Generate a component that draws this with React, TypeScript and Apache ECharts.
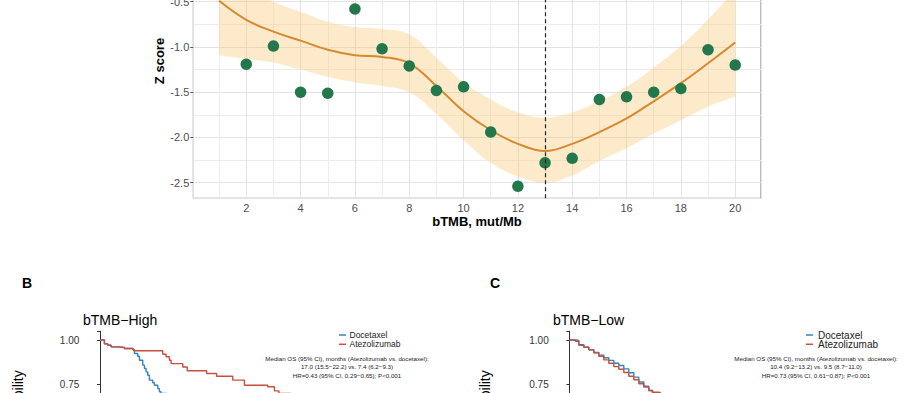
import React, { useEffect, useRef } from "react";
import * as echarts from "echarts";

const FONT = "'Liberation Sans', Arial, Helvetica, sans-serif";

// ---------- Panel A: Z score by bTMB cutoff ----------
const bTMBCutoffs = [2, 3, 4, 5, 6, 7, 8, 9, 10, 11, 12, 13, 14, 15, 16, 17, 18, 19, 20];
const zScores = [-1.19, -0.99, -1.5, -1.51, -0.58, -1.02, -1.21, -1.48, -1.44, -1.94, -2.54, -2.28, -2.23, -1.58, -1.55, -1.5, -1.46, -1.03, -1.2];
const fitX = [1, 2, 3, 4, 5, 6, 7, 8, 9, 10, 11, 12, 13, 14, 15, 16, 17, 18, 19, 20];
const fitY = [-0.49, -0.7, -0.83, -0.93, -1.03, -1.09, -1.11, -1.18, -1.43, -1.71, -1.92, -2.07, -2.15, -2.07, -1.94, -1.79, -1.6, -1.4, -1.18, -0.95];
const fitLower = [-1.09, -1.13, -1.17, -1.25, -1.33, -1.39, -1.43, -1.5, -1.74, -2.03, -2.28, -2.43, -2.5, -2.42, -2.26, -2.12, -1.96, -1.81, -1.66, -1.55];
const fitUpper = [0.11, -0.32, -0.5, -0.61, -0.72, -0.78, -0.8, -0.86, -1.12, -1.39, -1.58, -1.72, -1.78, -1.72, -1.6, -1.44, -1.23, -0.99, -0.7, -0.36];
const selectedCutoff = 13;

// ---------- Panel B: bTMB-High Kaplan-Meier ----------
const highDocetaxelTime = [0, 0.4, 0.7, 1.0, 1.6, 2.2, 2.95, 3.1, 3.4, 3.55, 3.85, 4.0, 4.15, 4.3, 4.45, 4.75, 4.9, 5.2, 5.35, 5.5, 6.0, 6.6];
const highDocetaxelSurv = [1.0, 0.978, 0.97, 0.961, 0.957, 0.952, 0.946, 0.923, 0.908, 0.885, 0.857, 0.838, 0.819, 0.8, 0.772, 0.757, 0.743, 0.724, 0.706, 0.696, 0.66, 0.62];
const highAtezoTime = [0, 0.4, 0.7, 1.0, 1.6, 2.2, 2.95, 3.05, 5.65, 5.95, 6.25, 6.4, 7.45, 7.85, 9.6, 10.5, 11.95, 13.0, 15.1, 15.7, 16.1, 17.2, 18.5];
const highAtezoSurv = [1.0, 0.978, 0.97, 0.961, 0.957, 0.952, 0.946, 0.939, 0.919, 0.905, 0.885, 0.866, 0.847, 0.825, 0.81, 0.794, 0.772, 0.743, 0.734, 0.711, 0.696, 0.68, 0.65];

// ---------- Panel C: bTMB-Low Kaplan-Meier ----------
const lowDocetaxelTime = [0, 0.56, 0.85, 1.3, 1.75, 2.2, 2.65, 3.1, 3.55, 4.0, 4.45, 4.9, 5.35, 5.8, 6.25, 6.7, 7.15, 7.5, 8.2];
const lowDocetaxelSurv = [1.0, 0.997, 0.97, 0.959, 0.944, 0.929, 0.914, 0.899, 0.884, 0.868, 0.855, 0.836, 0.814, 0.789, 0.761, 0.737, 0.713, 0.7, 0.66];
const lowAtezoTime = [0, 0.56, 0.85, 1.3, 1.75, 2.2, 2.65, 3.1, 3.55, 4.0, 4.45, 4.9, 5.35, 5.8, 6.25, 6.7, 7.15, 7.45, 8.1];
const lowAtezoSurv = [1.0, 0.993, 0.974, 0.959, 0.944, 0.927, 0.908, 0.887, 0.868, 0.849, 0.834, 0.815, 0.794, 0.774, 0.751, 0.732, 0.713, 0.703, 0.67];

const armNames = ["Docetaxel", "Atezolizumab"];
const highNotes = [
  "Median OS (95% CI), months (Atezolizumab vs. docetaxel):",
  "17.0 (15.5\u221222.2) vs. 7.4 (6.2\u22129.3)",
  "HR=0.43 (95% CI, 0.29\u22120.65); P<0.001",
];
const lowNotes = [
  "Median OS (95% CI), months (Atezolizumab vs. docetaxel):",
  "10.4 (9.2\u221213.2) vs. 9.5 (8.7\u221211.0)",
  "HR=0.73 (95% CI, 0.61\u22120.87); P<0.001",
];

const BLUE = "#3584BC";
const RED = "#C64F40";
const ORANGE = "#D68A2E";
const GREEN = "#22784A";

function pairs(xs: number[], ys: number[]) {
  return xs.map((x, i) => [x, ys[i]]);
}
// value first, x second (so that stacking happens on the y dimension)
function swapped(xs: number[], ys: number[]) {
  return xs.map((x, i) => [ys[i], x]);
}

export default function App() {
  const ref = useRef<HTMLDivElement>(null);

  useEffect(() => {
    if (!ref.current) return;
    const chart = echarts.init(ref.current, null, { renderer: "svg" });

    const kmYAxis = (gridIndex: number) => ({
      gridIndex,
      type: "value",
      min: 0,
      max: 1.05,
      interval: 0.25,
      axisLine: { show: true, lineStyle: { color: "#333", width: 1 } },
      axisTick: { show: true, length: 3, lineStyle: { color: "#333" } },
      axisLabel: {
        fontSize: 10,
        color: "#333",
        margin: 4,
        fontFamily: FONT,
        // labels below 0.75 fall outside the visible page
        formatter: (v: number) => (v > 1.001 || v < 0.7 ? "" : v.toFixed(2)),
      },
      splitLine: { show: false },
    });
    const kmXAxis = (gridIndex: number) => ({
      gridIndex,
      type: "value",
      min: -1.5,
      max: 31.5,
      show: false,
    });

    const noteTexts = (lines: string[], cx: number) =>
      lines.map((t, i) => ({
        type: "text",
        x: cx,
        y: 358 + i * 8.5,
        style: {
          text: t,
          fontSize: 6.2,
          fontFamily: FONT,
          fill: "#222",
          align: "center",
          verticalAlign: "middle",
        },
      }));

    const legendItems = (x0: number, textX: number, fontSize: number) =>
      armNames.flatMap((name, i) => [
        {
          type: "line",
          shape: { x1: x0, y1: 335 + i * 9.3, x2: x0 + 7, y2: 335 + i * 9.3 },
          style: { stroke: i === 0 ? BLUE : RED, lineWidth: 1.5 },
        },
        {
          type: "text",
          x: textX,
          y: 335 + i * 9.3,
          style: {
            text: name,
            fontSize,
            fontFamily: FONT,
            fill: "#222",
            align: "left",
            verticalAlign: "middle",
          },
        },
      ]);

    const option: any = {
      animation: false,
      backgroundColor: "#fff",
      grid: [
        {
          left: 193.3,
          top: -43.5,
          width: 567.7,
          height: 241.8,
          outerBoundsMode: "none",
          containLabel: false,
          show: true,
          borderColor: "#777",
          borderWidth: 1,
          backgroundColor: "transparent",
        },
        { left: 83.3, top: 331.2, width: 366.7, height: 184.8, outerBoundsMode: "none", containLabel: false },
        { left: 552.7, top: 331.2, width: 366.7, height: 184.8, outerBoundsMode: "none", containLabel: false },
      ],
      xAxis: [
        {
          gridIndex: 0,
          type: "value",
          min: 0.05,
          max: 20.95,
          splitNumber: 10,
          axisLine: { show: false },
          axisTick: { show: true, length: 3, lineStyle: { color: "#555" } },
          axisLabel: {
            showMinLabel: false,
            showMaxLabel: false,
            fontSize: 11,
            color: "#4d4d4d",
            margin: 4,
            fontFamily: FONT,
          },
          splitLine: { show: true, lineStyle: { color: "#e3e3e3", width: 1 } },
          minorTick: { show: false, splitNumber: 2 },
          minorSplitLine: { show: true, lineStyle: { color: "#ededed", width: 1 } },
        },
        kmXAxis(1),
        kmXAxis(2),
      ],
      yAxis: [
        {
          gridIndex: 0,
          type: "value",
          min: -2.672,
          max: 0,
          splitNumber: 5,
          axisLine: { show: false },
          axisTick: { show: true, length: 3, lineStyle: { color: "#555" } },
          axisLabel: {
            showMinLabel: false,
            showMaxLabel: false,
            fontSize: 11,
            color: "#4d4d4d",
            margin: 4,
            fontFamily: FONT,
            formatter: (v: number) => (v > -0.25 ? "" : v.toFixed(1)),
          },
          splitLine: { show: true, lineStyle: { color: "#e3e3e3", width: 1 } },
          minorTick: { show: false, splitNumber: 2 },
          minorSplitLine: { show: true, lineStyle: { color: "#ededed", width: 1 } },
        },
        kmYAxis(1),
        kmYAxis(2),
      ],
      series: [
        {
          name: "CI lower",
          type: "line",
          xAxisIndex: 0,
          yAxisIndex: 0,
          data: swapped(fitX, fitLower),
          encode: { x: 1, y: 0 },
          stack: "ci",
          stackStrategy: "all",
          smooth: 0.4,
          symbol: "none",
          lineStyle: { opacity: 0 },
          silent: true,
          z: 1,
        },
        {
          name: "CI band",
          type: "line",
          xAxisIndex: 0,
          yAxisIndex: 0,
          data: swapped(fitX, fitUpper.map((u, i) => u - fitLower[i])),
          encode: { x: 1, y: 0 },
          stack: "ci",
          stackStrategy: "all",
          smooth: 0.4,
          symbol: "none",
          lineStyle: { opacity: 0 },
          areaStyle: { color: "rgba(250, 200, 118, 0.38)", opacity: 1 },
          silent: true,
          z: 1,
        },
        {
          name: "Fit",
          type: "line",
          xAxisIndex: 0,
          yAxisIndex: 0,
          data: pairs(fitX, fitY),
          smooth: 0.4,
          symbol: "none",
          lineStyle: { color: ORANGE, width: 2 },
          z: 2,
        },
        {
          name: "Z score",
          type: "scatter",
          xAxisIndex: 0,
          yAxisIndex: 0,
          data: pairs(bTMBCutoffs, zScores),
          symbolSize: 11.5,
          itemStyle: { color: GREEN, opacity: 1 },
          z: 3,
          markLine: {
            symbol: "none",
            silent: true,
            label: { show: false },
            lineStyle: { type: [4, 3], color: "#222", width: 1.2 },
            data: [{ xAxis: selectedCutoff }],
          },
        },
        {
          name: armNames[0],
          type: "line",
          xAxisIndex: 1,
          yAxisIndex: 1,
          step: "end",
          symbol: "none",
          data: pairs(highDocetaxelTime, highDocetaxelSurv),
          lineStyle: { color: BLUE, width: 1.4 },
          itemStyle: { color: BLUE },
        },
        {
          name: armNames[1],
          type: "line",
          xAxisIndex: 1,
          yAxisIndex: 1,
          step: "end",
          symbol: "none",
          data: pairs(highAtezoTime, highAtezoSurv),
          lineStyle: { color: RED, width: 1.4 },
          itemStyle: { color: RED },
        },
        {
          name: armNames[0],
          type: "line",
          xAxisIndex: 2,
          yAxisIndex: 2,
          step: "end",
          symbol: "none",
          data: pairs(lowDocetaxelTime, lowDocetaxelSurv),
          lineStyle: { color: BLUE, width: 1.4 },
          itemStyle: { color: BLUE },
        },
        {
          name: armNames[1],
          type: "line",
          xAxisIndex: 2,
          yAxisIndex: 2,
          step: "end",
          symbol: "none",
          data: pairs(lowAtezoTime, lowAtezoSurv),
          lineStyle: { color: RED, width: 1.4 },
          itemStyle: { color: RED },
        },
      ],
      graphic: [
        {
          type: "text",
          x: 159.5,
          y: 61,
          rotation: Math.PI / 2,
          style: {
            text: "Z score",
            fontSize: 13,
            fontWeight: "bold",
            fontFamily: FONT,
            fill: "#000",
            align: "center",
            verticalAlign: "middle",
          },
        },
        {
          type: "text",
          x: 477,
          y: 221,
          style: {
            text: "bTMB, mut/Mb",
            fontSize: 13,
            fontWeight: "bold",
            fontFamily: FONT,
            fill: "#000",
            align: "center",
            verticalAlign: "middle",
          },
        },
        {
          type: "text",
          x: 27,
          y: 283,
          style: { text: "B", fontSize: 14, fontWeight: "bold", fontFamily: FONT, fill: "#000", align: "center", verticalAlign: "middle" },
        },
        {
          type: "text",
          x: 495,
          y: 283,
          style: { text: "C", fontSize: 14, fontWeight: "bold", fontFamily: FONT, fill: "#000", align: "center", verticalAlign: "middle" },
        },
        {
          type: "text",
          x: 83,
          y: 320,
          style: { text: "bTMB\u2212High", fontSize: 14, fontFamily: FONT, fill: "#000", align: "left", verticalAlign: "middle" },
        },
        {
          type: "text",
          x: 553,
          y: 320,
          style: { text: "bTMB\u2212Low", fontSize: 14, fontFamily: FONT, fill: "#000", align: "left", verticalAlign: "middle" },
        },
        {
          type: "text",
          x: 18,
          y: 429,
          rotation: Math.PI / 2,
          style: { text: "Survival probability", fontSize: 14, fontFamily: FONT, fill: "#000", align: "center", verticalAlign: "middle" },
        },
        {
          type: "text",
          x: 485,
          y: 429,
          rotation: Math.PI / 2,
          style: { text: "Survival probability", fontSize: 14, fontFamily: FONT, fill: "#000", align: "center", verticalAlign: "middle" },
        },
        ...legendItems(339, 349.5, 8.5),
        ...legendItems(806, 818, 10),
        ...noteTexts(highNotes, 347),
        ...noteTexts(lowNotes, 816),
      ],
    };

    chart.setOption(option);
    return () => chart.dispose();
  }, []);

  return (
    <div
      ref={ref}
      style={{ position: "absolute", left: 0, top: 0, width: 916, height: 393, background: "#fff" }}
    />
  );
}
